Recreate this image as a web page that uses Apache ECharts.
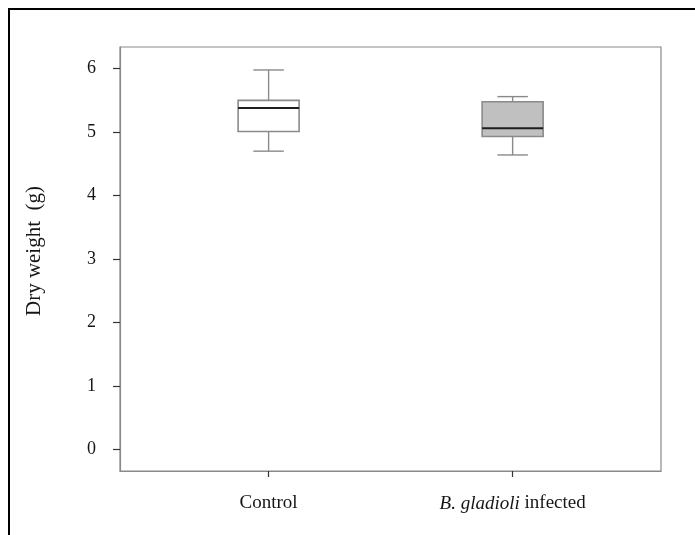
<!DOCTYPE html>
<html>
<head>
<meta charset="utf-8">
<script src="https://cdn.jsdelivr.net/npm/echarts@6/dist/echarts.min.js"></script>
<style>
  html, body { margin: 0; padding: 0; background: #ffffff; }
  #chart { width: 695px; height: 535px; }
</style>
</head>
<body>
<div id="chart"></div>
<script>
// Dry weight per treatment group: five-number summaries for the box plots
const categories = ['Control', 'B. gladioli infected'];
const categoryPos = [1, 2];
const minVals = [4.70, 4.64];
const q1Vals = [5.01, 4.93];
const medianVals = [5.38, 5.06];
const q3Vals = [5.50, 5.48];
const maxVals = [5.98, 5.56];
const yTicks = [0, 1, 2, 3, 4, 5, 6];
const boxFills = ['#ffffff', '#c0c0c0'];

const FONT = '"Liberation Serif", "DejaVu Serif", serif';
const TEXT = '#151515';
const BOX_W = 0.25;   // box width in x-axis units
const CAP_W = 0.125;  // whisker cap width in x-axis units
const FRAME = '#8a8a8a';

const boxData = categoryPos.map((p, i) => [p, minVals[i], q1Vals[i], medianVals[i], q3Vals[i], maxVals[i]]);

function renderBox(params, api) {
  const i = params.dataIndex;
  const x = api.value(0);
  const pMin = api.coord([x, api.value(1)]);
  const pQ1 = api.coord([x, api.value(2)]);
  const pMed = api.coord([x, api.value(3)]);
  const pQ3 = api.coord([x, api.value(4)]);
  const pMax = api.coord([x, api.value(5)]);
  const halfBox = api.size([BOX_W, 0])[0] / 2;
  const halfCap = api.size([CAP_W, 0])[0] / 2;
  const cx = pMed[0];
  const grey = { stroke: '#8a8a8a', lineWidth: 1.4 };
  return {
    type: 'group',
    children: [
      { type: 'line', shape: { x1: cx, y1: pQ1[1], x2: cx, y2: pMin[1] }, style: grey },
      { type: 'line', shape: { x1: cx, y1: pQ3[1], x2: cx, y2: pMax[1] }, style: grey },
      { type: 'line', shape: { x1: cx - halfCap, y1: pMin[1], x2: cx + halfCap, y2: pMin[1] }, style: grey },
      { type: 'line', shape: { x1: cx - halfCap, y1: pMax[1], x2: cx + halfCap, y2: pMax[1] }, style: grey },
      { type: 'rect', shape: { x: cx - halfBox, y: pQ3[1], width: halfBox * 2, height: pQ1[1] - pQ3[1] },
        style: { fill: boxFills[i], stroke: '#8a8a8a', lineWidth: 1.6 } },
      { type: 'line', shape: { x1: cx - halfBox, y1: pMed[1], x2: cx + halfBox, y2: pMed[1] },
        style: { stroke: '#1e1e1e', lineWidth: 2 } }
    ]
  };
}

const chart = echarts.init(document.getElementById('chart'), null, { renderer: 'canvas' });
chart.setOption({
  backgroundColor: '#ffffff',
  animation: false,
  graphic: [{
    type: 'rect',
    shape: { x: 9, y: 9, width: 720, height: 560 },
    style: { fill: 'none', stroke: '#000000', lineWidth: 2 },
    silent: true
  }],
  grid: {
    left: 120, right: 34, top: 47, bottom: 64,
    show: true, borderColor: FRAME, borderWidth: 1.2, backgroundColor: 'transparent'
  },
  xAxis: {
    type: 'value',
    min: 0.391, max: 2.608,
    splitLine: { show: false },
    axisLine: { show: true, onZero: false, lineStyle: { color: FRAME, width: 1.2 } },
    axisTick: { show: true, customValues: categoryPos, length: 6, lineStyle: { color: '#333', width: 1.2 } },
    axisLabel: {
      customValues: categoryPos,
      margin: 23,
      fontFamily: FONT, fontSize: 19, color: TEXT,
      formatter: function (v) {
        const name = categories[categoryPos.indexOf(Math.round(v))];
        if (name === 'B. gladioli infected') return '{it|B. gladioli} infected';
        return name;
      },
      rich: { it: { fontFamily: FONT, fontSize: 19, fontStyle: 'italic', color: TEXT } }
    }
  },
  yAxis: {
    type: 'value',
    min: -0.342, max: 6.342,
    name: 'Dry weight  (g)',
    nameLocation: 'middle',
    nameGap: 75,
    nameRotate: 90,
    nameTextStyle: { fontFamily: FONT, fontSize: 21, color: TEXT, padding: [0, 0, 0, 16] },
    splitLine: { show: false },
    axisLine: { show: true, onZero: false, lineStyle: { color: FRAME, width: 1.2 } },
    axisTick: { show: true, customValues: yTicks, length: 7, lineStyle: { color: '#333', width: 1.2 } },
    axisLabel: {
      customValues: yTicks,
      margin: 24,
      fontFamily: FONT, fontSize: 18, color: TEXT
    }
  },
  series: [{
    type: 'custom',
    renderItem: renderBox,
    encode: { x: 0, y: [1, 2, 3, 4, 5] },
    data: boxData,
    clip: false
  }]
});
</script>
</body>
</html>
